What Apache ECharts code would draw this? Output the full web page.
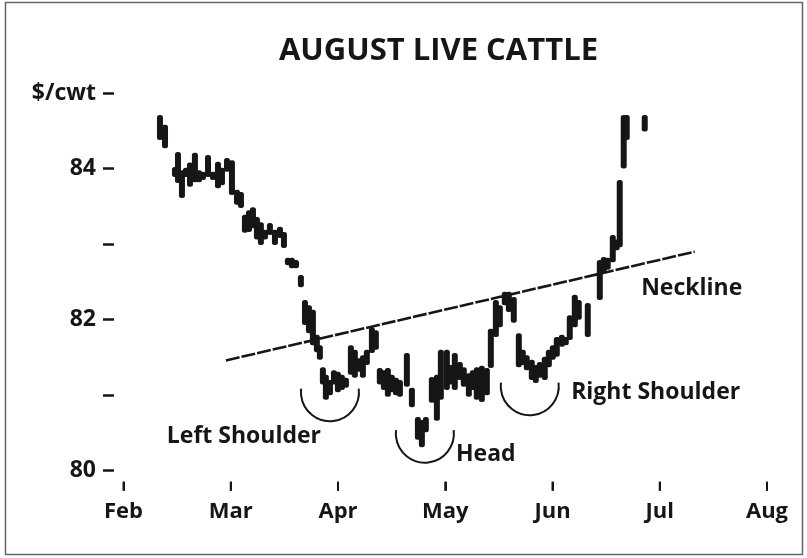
<!DOCTYPE html>
<html><head><meta charset="utf-8">
<script src="https://cdn.jsdelivr.net/npm/echarts@6/dist/echarts.min.js"></script>
<style>html,body{margin:0;padding:0;background:#fff}#c{width:807px;height:558px}</style>
</head><body><div id="c"></div>
<script>
// ---- data ----
const chartTitle = 'AUGUST LIVE CATTLE';
const monthLabels = ['Feb', 'Mar', 'Apr', 'May', 'Jun', 'Jul', 'Aug'];
const monthTicks = [0, 1, 2, 3, 4, 5, 6];
const yTickValues = [80, 81, 82, 83, 84, 85];
const yTickLabels = ['80', '', '82', '', '84', '$/cwt'];

// x position in months after Feb 1
const dayX = [0.340,0.387,0.480,0.508,0.545,0.582,0.620,0.666,0.704,0.741,0.788,0.834,0.881,0.918,0.965,1.011,1.058,1.095,
  1.132,1.170,1.207,1.244,1.281,1.319,1.365,1.412,1.459,1.496,1.533,1.570,1.608,1.654,1.692,1.729,1.766,1.803,1.831,
  1.859,1.887,1.925,1.962,1.999,2.036,2.074,2.120,2.157,2.195,2.232,2.269,2.316,2.353,2.390,2.428,2.465,2.502,2.540,2.577,
  2.642,2.689,2.745,2.782,2.819,2.875,2.922,2.959,3.015,3.052,3.089,3.136,3.173,3.220,3.257,3.294,3.341,3.388,
  3.425,3.472,3.509,3.555,3.593,3.639,3.686,3.723,3.760,3.807,3.844,3.882,3.928,3.966,4.003,4.040,4.087,4.124,4.161,
  4.208,4.245,4.329,4.441,4.478,4.515,4.562,4.599,4.627,4.664,4.692,4.860];
const highs = [84.71,84.58,84.02,84.22,83.98,84.01,84.08,84.21,83.98,83.96,84.18,83.96,84.09,84.01,84.14,84.11,83.72,83.69,
  83.39,83.45,83.49,83.36,83.29,83.19,83.28,83.19,83.23,83.16,82.82,82.82,82.79,82.59,82.26,82.19,82.13,81.80,81.66,
  81.37,81.27,81.20,81.33,81.31,81.27,81.23,81.66,81.60,81.49,81.53,81.60,81.90,81.86,81.36,81.33,81.36,81.27,81.23,81.20,
  81.56,81.10,80.71,80.67,80.71,81.24,81.27,81.60,81.60,81.40,81.56,81.44,81.37,81.29,81.33,81.37,81.39,81.36,
  81.88,82.26,82.19,82.37,82.37,82.30,81.82,81.60,81.53,81.47,81.40,81.44,81.51,81.60,81.66,81.77,81.80,81.77,82.06,
  82.33,82.26,82.22,82.79,82.83,82.82,83.12,83.06,83.85,84.71,84.71,84.71];
const lows = [84.38,84.27,83.89,83.81,83.61,83.89,83.76,83.82,83.82,83.85,83.89,83.85,83.74,83.78,83.96,83.65,83.52,83.48,
  83.15,83.16,83.21,83.06,82.99,83.06,83.12,82.99,83.08,82.95,82.72,82.68,82.68,82.43,81.93,81.82,81.66,81.57,81.47,
  81.14,80.94,81.00,81.14,81.04,81.07,81.10,81.27,81.23,81.31,81.23,81.40,81.56,81.60,81.14,81.07,80.98,81.04,81.00,80.98,
  81.11,80.84,80.41,80.31,80.51,80.90,80.66,80.94,81.07,81.14,81.07,81.20,81.11,80.98,81.07,80.94,80.91,81.00,
  81.36,81.77,81.90,82.19,82.10,81.96,81.37,81.40,81.33,81.20,81.16,81.23,81.20,81.37,81.47,81.51,81.64,81.66,81.73,
  81.90,82.00,81.77,82.26,82.63,82.66,82.76,82.92,82.96,84.00,84.38,84.49];

const necklineX = [0.955, 5.326];
const necklineY = [81.46, 82.90];

const arcCenterX = [1.925, 2.810, 3.788];
const arcCenterY = [81.04, 80.49, 81.12];

const noteText = ['Left Shoulder', 'Head', 'Right Shoulder', 'Neckline'];
const noteX = [1.123, 3.378, 4.962, 5.298];
const noteY = [80.46, 80.21, 81.04, 82.41];

// ---- chart ----
const FONT = "'Open Sans', 'Noto Sans', sans-serif";
const INK = '#161616';
const chart = echarts.init(document.getElementById('c'), null, {renderer: 'canvas'});

const barData = dayX.map((x, i) => [x, highs[i], lows[i]]);
const neckData = necklineX.map((x, i) => [x, necklineY[i]]);
const arcData = arcCenterX.map((x, i) => [x, arcCenterY[i]]);
const noteData = noteText.map((t, i) => ({name: t, value: [noteX[i], noteY[i]]}));
const yMin = yTickValues[0], yMax = yTickValues[yTickValues.length - 1];
const xTickData = monthTicks.map(m => [m, yMin]);

chart.setOption({
  animation: false,
  backgroundColor: '#fff',
  grid: [
    {left: 123.5, right: 40, top: 93.1, bottom: 87.3, containLabel: false},
    {left: 114, right: 40, top: 93.1, bottom: 87.3, containLabel: false}
  ],
  xAxis: [
    {
      type: 'value', gridIndex: 0, position: 'bottom', min: monthTicks[0], max: monthTicks[monthTicks.length - 1], interval: 1, offset: 11,
      axisLine: {show: false}, splitLine: {show: false},
      axisTick: {show: true, length: 9, lineStyle: {color: INK, width: 2}},
      axisLabel: {show: false}
    },
    {type: 'value', gridIndex: 1, min: 0, max: 1, show: false}
  ],
  yAxis: [
    {type: 'value', gridIndex: 0, min: yMin, max: yMax, interval: 1, show: false},
    {
      type: 'value', gridIndex: 1, min: yMin, max: yMax, interval: 1,
      axisLine: {show: false},
      axisTick: {show: true, length: 11, lineStyle: {color: INK, width: 2.5}},
      splitLine: {show: false},
      axisLabel: {margin: 18, color: INK, fontFamily: FONT, fontWeight: 'bold', fontSize: 23,
        formatter: v => { const k = yTickValues.indexOf(Math.round(v)); return k >= 0 ? yTickLabels[k] : ''; }}
    }
  ],
  graphic: [
    {type: 'rect', shape: {x: 5.5, y: 2.5, width: 797, height: 552}, style: {fill: 'none', stroke: '#666', lineWidth: 1.5}, silent: true},
    {type: 'text', x: 438.5, y: 51, style: {text: chartTitle, fill: INK, font: "bold 31px 'Open Sans', sans-serif", textAlign: 'center', textVerticalAlign: 'middle'}}
  ],
  series: [
    {
      // month tick marks and month names below the price scale
      type: 'custom', data: xTickData, z: 6, xAxisIndex: 0, yAxisIndex: 0, clip: false,
      encode: {x: 0, y: 1},
      renderItem: (params, api) => {
        const p = api.coord([api.value(0), api.value(1)]);
        return {
          type: 'group',
          children: [
            {type: 'line', shape: {x1: p[0], y1: p[1] + 11, x2: p[0], y2: p[1] + 20},
              style: {stroke: INK, lineWidth: 2}},
            {type: 'text', x: p[0], y: p[1] + 30,
              style: {text: monthLabels[params.dataIndex], fill: INK, align: 'center', verticalAlign: 'top',
                font: "bold 22px 'Open Sans', sans-serif"}}
          ]
        };
      }
    },
    {
      type: 'line', data: neckData, symbol: 'none', z: 3, xAxisIndex: 0, yAxisIndex: 0,
      lineStyle: {color: INK, width: 2.6, type: [14, 2]}
    },
    {
      type: 'custom', data: barData, z: 4, xAxisIndex: 0, yAxisIndex: 0,
      encode: {x: 0, y: [1, 2]},
      renderItem: (params, api) => {
        const x = api.value(0);
        const p1 = api.coord([x, api.value(1)]);
        const p2 = api.coord([x, api.value(2)]);
        const h = Math.max(p2[1] - p1[1], 5);
        return {type: 'rect', shape: {x: p1[0] - 3, y: p1[1], width: 6, height: h, r: 2.5},
          style: {fill: INK}};
      }
    },
    {
      type: 'custom', data: arcData, z: 4, xAxisIndex: 0, yAxisIndex: 0,
      encode: {x: 0, y: 1},
      renderItem: (params, api) => {
        const c = api.coord([api.value(0), api.value(1)]);
        return {type: 'arc', shape: {cx: c[0], cy: c[1], r: 29, startAngle: -0.12, endAngle: Math.PI + 0.12, clockwise: true},
          style: {fill: 'none', stroke: INK, lineWidth: 2}};
      }
    },
    {
      type: 'scatter', data: noteData, symbolSize: 0, z: 5, xAxisIndex: 0, yAxisIndex: 0,
      itemStyle: {opacity: 1},
      label: {show: true, position: 'inside', formatter: p => p.name, color: INK, opacity: 1,
        fontFamily: FONT, fontWeight: 'bold', fontSize: 23}
    }
  ]
});
</script>
</body></html>
